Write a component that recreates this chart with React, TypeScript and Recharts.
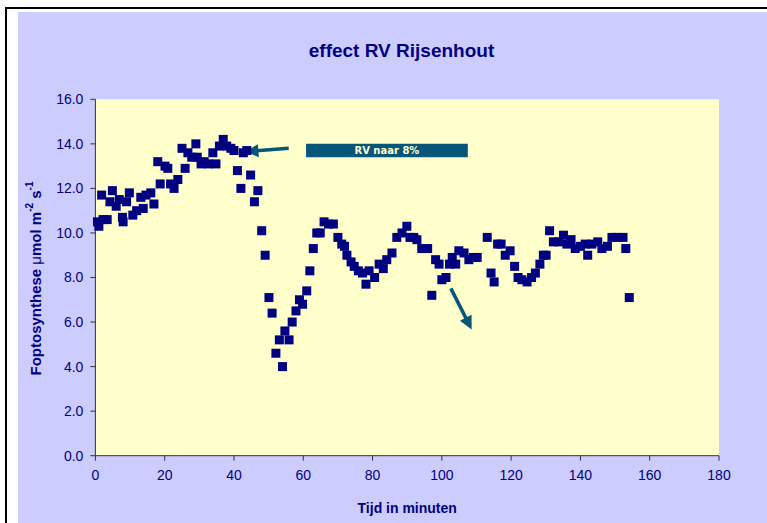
import React from "react";
import {
  ScatterChart,
  Scatter,
  XAxis,
  YAxis,
  CartesianGrid,
  ReferenceLine,
  ReferenceArea,
} from "recharts";

// time in minutes
const tijd = [
  0.6, 1.0, 1.8, 2.2, 3.4, 4.2, 4.9, 6.0, 6.9, 7.8, 8.0, 9.0, 9.8, 10.8, 11.9,
  13.1, 13.8, 14.6, 16.0, 16.9, 18.0, 18.7, 20.1, 20.9, 21.7, 22.7, 23.8, 25.0,
  25.9, 26.7, 27.8, 29.0, 29.4, 30.5, 31.4, 32.6, 33.9, 34.8, 35.8, 36.9, 37.9,
  39.1, 40.0, 41.0, 42.0, 42.7, 43.7, 44.8, 45.9, 46.9, 48.0, 49.0, 50.1, 51.0,
  52.1, 53.1, 54.0, 54.7, 55.9, 56.8, 57.9, 58.9, 59.8, 61.0, 61.9, 62.9, 63.9,
  64.9, 66.0, 67.3, 68.7, 70.0, 71.1, 71.9, 72.6, 73.8, 74.7, 75.9, 77.1, 78.1,
  79.0, 80.6, 81.9, 83.1, 84.1, 85.6, 87.0, 88.5, 89.9, 90.8, 91.9, 92.8, 94.2,
  95.9, 97.1, 98.2, 99.2, 100.0, 101.2, 102.2, 103.0, 104.0, 104.9, 106.4,
  107.8, 109.1, 110.2, 113.1, 114.2, 115.1, 116.1, 117.1, 118.3, 119.7, 121.0,
  122.0, 123.1, 124.6, 125.9, 127.0, 128.3, 129.3, 130.1, 131.1, 132.2, 133.7,
  135.1, 136.1, 137.3, 138.5, 140.0, 141.4, 142.1, 143.3, 145.0, 146.2, 147.8,
  149.1, 150.5, 152.3, 153.1, 154.1,
];

// photosynthesis, umol m-2 s-1
const foto = [
  10.5, 10.3, 11.7, 10.6, 10.6, 11.4, 11.9, 11.2, 11.5, 10.7, 10.5, 11.4, 11.8,
  10.8, 11.0, 11.6, 11.1, 11.7, 11.8, 11.3, 13.2, 12.2, 13.0, 12.9, 12.2, 12.0,
  12.4, 13.8, 12.9, 13.6, 13.4, 14.0, 13.4, 13.1, 13.2, 13.1, 13.6, 13.1, 13.9,
  14.2, 13.9, 13.8, 13.7, 12.8, 12.0, 13.6, 13.7, 12.6, 11.4, 11.9, 10.1, 9.0,
  7.1, 6.4, 4.6, 5.2, 4.0, 5.6, 5.2, 6.0, 6.5, 7.0, 6.8, 7.4, 8.3, 9.3, 10.0,
  10.0, 10.5, 10.4, 10.4, 9.8, 9.5, 9.4, 9.0, 8.7, 8.5, 8.3, 8.2, 7.7, 8.3, 8.0,
  8.6, 8.4, 8.8, 9.1, 9.8, 10.0, 10.3, 9.8, 9.8, 9.7, 9.3, 9.3, 7.2, 8.8, 8.6,
  7.9, 8.0, 8.6, 8.9, 8.6, 9.2, 9.1, 8.8, 8.9, 8.9, 9.8, 8.2, 7.8, 9.5, 9.5,
  9.0, 9.2, 8.5, 8.0, 7.9, 7.8, 8.0, 8.2, 8.6, 9.0, 9.0, 10.1, 9.6, 9.6, 9.9,
  9.5, 9.7, 9.3, 9.4, 9.5, 9.0, 9.5, 9.6, 9.3, 9.4, 9.8, 9.8, 9.8, 9.3, 7.1,
];

const xTicks = [0, 20, 40, 60, 80, 100, 120, 140, 160, 180];
const yTicks = [0, 2, 4, 6, 8, 10, 12, 14, 16];

// annotation: label box and two arrows (data coords)
const boxX = [60.8, 107.5];
const boxY = [13.4, 14.0];
const arrowRV = [
  { x: 55.8, y: 13.8 },
  { x: 43.3, y: 13.65 },
];
const arrowDown = [
  { x: 102.6, y: 7.51 },
  { x: 108.6, y: 5.67 },
];

const data = tijd.map((t, i) => ({ x: t, y: foto[i] }));

const NAVY = "#000080";
const TEAL = "#08557A";

function SquareDot(props: any) {
  const { cx, cy } = props;
  if (cx == null || cy == null) return null;
  return <rect x={cx - 4.5} y={cy - 4.5} width={9} height={9} fill={NAVY} />;
}

function Arrow(props: any) {
  const { x1, y1, x2, y2 } = props;
  const dx = x2 - x1;
  const dy = y2 - y1;
  const len = Math.sqrt(dx * dx + dy * dy) || 1;
  const ux = dx / len;
  const uy = dy / len;
  const head = 13;
  const half = 6.5;
  const bx = x2 - ux * head;
  const by = y2 - uy * head;
  const pts = [
    `${x2},${y2}`,
    `${bx - uy * half},${by + ux * half}`,
    `${bx + uy * half},${by - ux * half}`,
  ].join(" ");
  return (
    <g>
      <line x1={x1} y1={y1} x2={bx + ux * 2} y2={by + uy * 2} stroke={TEAL} strokeWidth={3.5} />
      <polygon points={pts} fill={TEAL} />
    </g>
  );
}

function YLabel() {
  const cx = 17;
  const cy = 266.5;
  return (
    <text
      x={cx}
      y={cy}
      transform={`rotate(-90, ${cx}, ${cy})`}
      textAnchor="middle"
      dominantBaseline="central"
      fill={NAVY}
      fontSize={15}
      fontWeight="bold"
    >
      Foptosynthese <tspan fontWeight="normal">μ</tspan>mol m
      <tspan fontSize={10} dy={-6}>-2</tspan>
      <tspan dy={6}> s</tspan>
      <tspan fontSize={10} dy={-6}>-1</tspan>
    </text>
  );
}

export default function App() {
  return (
    <div
      style={{
        position: "absolute",
        left: 0,
        top: 0,
        width: 767,
        height: 523,
        background: "#fff",
        overflow: "hidden",
        fontFamily: "'Liberation Sans', Arial, sans-serif",
      }}
    >
      <div
        style={{
          position: "absolute",
          left: 5,
          top: 7,
          width: 800,
          height: 600,
          borderLeft: "2px solid #000",
          borderTop: "2px solid #000",
        }}
      />
      <div
        style={{
          position: "absolute",
          left: 18,
          top: 12,
          width: 749,
          height: 511,
          background: "#CCCCFF",
        }}
      >
        <div
          style={{
            position: "absolute",
            left: 0,
            top: 29,
            width: 767,
            textAlign: "center",
            fontSize: 19,
            lineHeight: "20px",
            fontWeight: "bold",
            color: NAVY,
          }}
        >
          effect RV Rijsenhout
        </div>
        <ScatterChart
          width={749}
          height={511}
          margin={{ top: 87.3, right: 48, bottom: 0, left: 0 }}
        >
          <CartesianGrid fill="#FFFFCC" horizontal={false} vertical={false} />
          <XAxis
            type="number"
            dataKey="x"
            domain={[0, 180]}
            ticks={xTicks}
            height={67.3}
            tickSize={5}
            tickMargin={9}
            tick={{ fill: NAVY, fontSize: 14 }}
            axisLine={{ stroke: "#333" }}
            tickLine={{ stroke: "#333" }}
            label={{
              value: "Tijd in minuten",
              position: "insideBottom",
              offset: 10,
              fill: NAVY,
              fontSize: 14,
              fontWeight: "bold",
            }}
          />
          <YAxis
            type="number"
            dataKey="y"
            domain={[0, 16]}
            ticks={yTicks}
            width={77.4}
            tickSize={5}
            tickMargin={7}
            tickFormatter={(v: number) => v.toFixed(1)}
            tick={{ fill: NAVY, fontSize: 14 }}
            axisLine={{ stroke: "#333" }}
            tickLine={{ stroke: "#333" }}
            label={<YLabel />}
          />
          <ReferenceArea
            x1={boxX[0]}
            x2={boxX[1]}
            y1={boxY[0]}
            y2={boxY[1]}
            fill={TEAL}
            fillOpacity={1}
            stroke="none"
            label={{
              value: "RV naar 8%",
              position: "center",
              fill: "#FFFFCC",
              fontSize: 10,
              fontWeight: "bold",
              fontFamily: "'DejaVu Sans', Verdana, sans-serif",
            }}
          />
          <ReferenceLine segment={arrowRV} shape={Arrow} />
          <ReferenceLine segment={arrowDown} shape={Arrow} />
          <Scatter data={data} shape={SquareDot} isAnimationActive={false} />
        </ScatterChart>
      </div>
    </div>
  );
}
